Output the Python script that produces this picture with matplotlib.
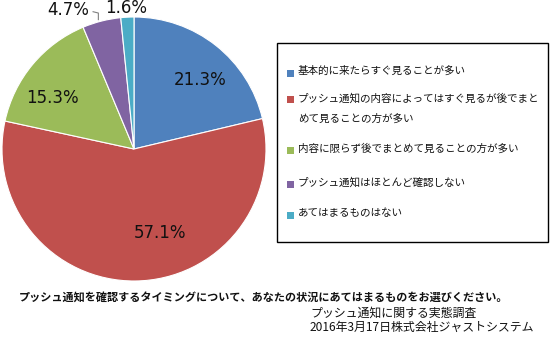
import numpy as np
import matplotlib.pyplot as plt
from matplotlib.patches import Rectangle

plt.rcParams['font.family'] = ['Noto Sans CJK JP', 'DejaVu Sans']

# Datos
categorias = ['基本的に来たらすぐ見ることが多い',
              'プッシュ通知の内容によってはすぐ見るが後でまと\nめて見ることの方が多い',
              '内容に限らず後でまとめて見ることの方が多い',
              'プッシュ通知はほとんど確認しない',
              'あてはまるものはない']
valores = [21.3, 57.1, 15.3, 4.7, 1.6]
colores = ['#4F81BD', '#C0504D', '#9BBB59', '#8064A2', '#4BACC6']
etiquetas = ['21.3%', '57.1%', '15.3%', '4.7%', '1.6%']
# posicion de cada etiqueta (coordenadas del eje, radio = 1)
pos_etiquetas = [(0.50, 0.52), (0.20, -0.64), (-0.62, 0.39), (-0.50, 1.05), (-0.06, 1.07)]

titulo = 'プッシュ通知を確認するタイミングについて、あなたの状況にあてはまるものをお選びください。'
fuente = ['プッシュ通知に関する実態調査', '2016年3月17日株式会社ジャストシステム']

W, H = 551, 339
fig = plt.figure(figsize=(W / 100, H / 100), dpi=100)

# pastel: centro (134,149) px, radio 132 px
cx, cy, r = 134, 149, 132
ax = fig.add_axes([(cx - r) / W, (H - cy - r) / H, 2 * r / W, 2 * r / H])
ax.pie(valores, colors=colores, startangle=90, counterclock=False,
       wedgeprops=dict(edgecolor='white', linewidth=0.8))
ax.set_xlim(-1, 1)
ax.set_ylim(-1, 1)
ax.set_aspect('auto')
ax.axis('off')

for txt, (x, y) in zip(etiquetas, pos_etiquetas):
    ax.text(x, y, txt, ha='center', va='center', fontsize=12,
            family='DejaVu Sans', color='#111111', clip_on=False)

# linea guia de 4.7%
ax.plot([-0.31, -0.27, -0.27], [1.04, 1.03, 0.98], color='#808080', lw=0.8, clip_on=False)

# leyenda
fig.patches.append(Rectangle((277 / W, 1 - 242 / H), (548 - 277) / W, (242 - 43) / H,
                             transform=fig.transFigure, fill=False, edgecolor='black', lw=1))
filas = [73, 100, 150, 184, 215]
for cat, col, yy in zip(categorias, colores, filas):
    fig.patches.append(Rectangle((287 / W, 1 - (yy + 3.5) / H), 7 / W, 7 / H,
                                 transform=fig.transFigure, facecolor=col, edgecolor='none'))
    fig.text(298 / W, 1 - (yy - 7) / H, cat, ha='left', va='top', fontsize=7.6,
             linespacing=2.2, color='#111111')

fig.text(264 / W, 1 - 297 / H, titulo, ha='center', va='center', fontsize=8.0,
         fontweight='bold', color='#111111')
fig.text(310 / W, 1 - 313 / H, fuente[0], ha='left', va='center', fontsize=8.6, color='#111111')
fig.text(310 / W, 1 - 327 / H, fuente[1], ha='left', va='center', fontsize=8.6, color='#111111')

fig.savefig('out.png', dpi=100)
